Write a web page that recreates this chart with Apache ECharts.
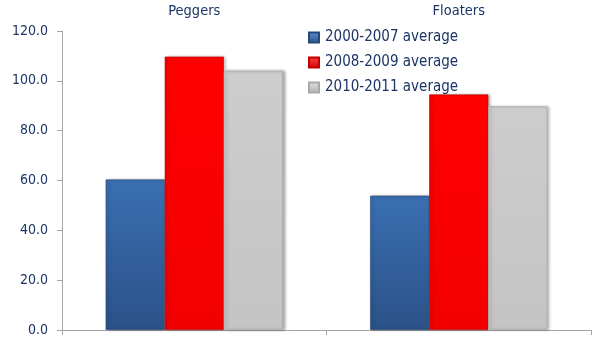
<!DOCTYPE html>
<html>
<head>
<meta charset="utf-8">
<style>
  html, body { margin: 0; padding: 0; background: #ffffff; }
  #chart { width: 597px; height: 347px; }
</style>
<script src="https://cdn.jsdelivr.net/npm/echarts@6/dist/echarts.min.js"></script>
</head>
<body>
<div id="chart"></div>
<script>
// Regime groups and the three period averages
const categories = ['Peggers', 'Floaters'];
const seriesNames = ['2000-2007 average', '2008-2009 average', '2010-2011 average'];
const avg2000_2007 = [60.4, 53.9];
const avg2008_2009 = [109.7, 94.5];
const avg2010_2011 = [104.0, 89.8];

const textColor = '#1b3566';
const axisColor = '#a6a6a6';
const font = '"DejaVu Sans Condensed", "DejaVu Sans", sans-serif';

function grad(top, bottom) {
  return new echarts.graphic.LinearGradient(0, 0, 0, 1, [
    { offset: 0, color: top },
    { offset: 1, color: bottom }
  ]);
}

const palette = [
  grad('#3a6fb2', '#2b5288'),
  grad('#ff0000', '#f20000'),
  grad('#cdcdcd', '#c4c4c4')
];
const legendColors = [
  grad('#5b8fd0', '#2b5288'),
  grad('#ff4040', '#d00000'),
  grad('#e0e0e0', '#b0b0b0')
];
const borderColors = ['#264a78', '#c00000', '#a8a8a8'];

const values = [avg2000_2007, avg2008_2009, avg2010_2011];

const chart = echarts.init(document.getElementById('chart'));
chart.setOption({
  animation: false,
  textStyle: { fontFamily: font },
  grid: { left: 62, right: 6, top: 31, bottom: 17 },
  legend: {
    orient: 'vertical',
    left: 303,
    top: 25,
    icon: 'rect',
    itemWidth: 10,
    itemHeight: 10,
    itemGap: 10,
    textStyle: { color: textColor, fontSize: 15, fontFamily: font, padding: [0, 0, 0, 1] },
    data: seriesNames.map((n, i) => ({ name: n, itemStyle: { color: legendColors[i] } }))
  },
  xAxis: [
    {
      type: 'category',
      data: categories,
      position: 'bottom',
      axisLine: { lineStyle: { color: axisColor, width: 1 } },
      axisTick: { show: true, length: 5, lineStyle: { color: axisColor } },
      axisLabel: { show: false }
    },
    {
      type: 'category',
      data: categories,
      position: 'top',
      axisLine: { show: false },
      axisTick: { show: false },
      axisLabel: { color: textColor, fontSize: 14.5, margin: 12, fontFamily: font }
    }
  ],
  yAxis: {
    type: 'value',
    min: 0,
    max: 120,
    interval: 20,
    axisLine: { show: true, lineStyle: { color: axisColor, width: 1 } },
    axisTick: { show: true, length: 5, lineStyle: { color: axisColor } },
    splitLine: { show: false },
    axisLabel: {
      color: textColor,
      fontSize: 14,
      margin: 14,
      fontFamily: font,
      formatter: v => v.toFixed(1)
    }
  },
  series: seriesNames.map((name, i) => ({
    name: name,
    type: 'bar',
    xAxisIndex: 0,
    data: values[i],
    barGap: '0%',
    barCategoryGap: '33%',
    itemStyle: {
      color: palette[i],
      borderColor: borderColors[i],
      borderWidth: 0.6,
      shadowColor: 'rgba(0,0,0,0.35)',
      shadowBlur: 3,
      shadowOffsetX: 2,
      shadowOffsetY: 0
    }
  }))
});
</script>
</body>
</html>
